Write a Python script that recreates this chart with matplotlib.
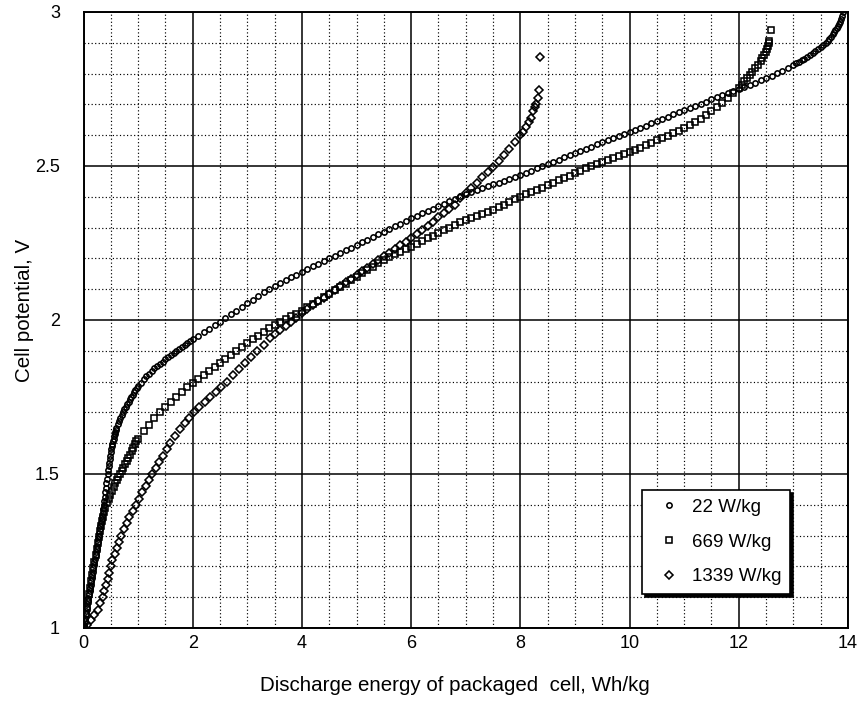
import matplotlib
matplotlib.use("Agg")
import matplotlib.pyplot as plt
from matplotlib.ticker import MultipleLocator

plt.rcParams['font.family'] = ['Liberation Sans', 'DejaVu Sans']

# ---------------- data ----------------
labels = ["22 W/kg", "669 W/kg", "1339 W/kg"]

x_22 = [0, 0.01, 0.02, 0.03, 0.04, 0.05, 0.06, 0.07, 0.08, 0.09, 0.1, 0.11, 0.12, 0.13, 0.14,
        0.15, 0.16, 0.17, 0.18, 0.19, 0.2, 0.21, 0.22, 0.23, 0.24, 0.25, 0.26, 0.27, 0.28, 0.29,
        0.3, 0.31, 0.32, 0.33, 0.34, 0.35, 0.36, 0.37, 0.38, 0.39, 0.4, 0.41, 0.42, 0.43, 0.44,
        0.45, 0.46, 0.47, 0.48, 0.49, 0.5, 0.51, 0.52, 0.53, 0.54, 0.55, 0.56, 0.57, 0.58, 0.59,
        0.6, 0.625, 0.65, 0.675, 0.7, 0.725, 0.75, 0.775, 0.8, 0.825, 0.85, 0.875, 0.9, 0.925,
        0.95, 0.975, 1.0, 1.05, 1.1, 1.15, 1.2, 1.25, 1.3, 1.35, 1.4, 1.45, 1.5, 1.55, 1.6, 1.65,
        1.7, 1.75, 1.8, 1.85, 1.9, 1.95, 2.0, 2.1, 2.2, 2.3, 2.4, 2.5, 2.6, 2.7, 2.8, 2.9, 3.0,
        3.1, 3.2, 3.3, 3.4, 3.5, 3.6, 3.7, 3.8, 3.9, 4.0, 4.1, 4.2, 4.3, 4.4, 4.5, 4.6, 4.7, 4.8,
        4.9, 5.0, 5.1, 5.2, 5.3, 5.4, 5.5, 5.6, 5.7, 5.8, 5.9, 6.0, 6.1, 6.2, 6.3, 6.4, 6.5, 6.6,
        6.7, 6.8, 6.9, 7.0, 7.1, 7.2, 7.3, 7.4, 7.5, 7.6, 7.7, 7.8, 7.9, 8.0, 8.1, 8.2, 8.3, 8.4,
        8.5, 8.6, 8.7, 8.8, 8.9, 9.0, 9.1, 9.2, 9.3, 9.4, 9.5, 9.6, 9.7, 9.8, 9.9, 10.0, 10.1,
        10.2, 10.3, 10.4, 10.5, 10.6, 10.7, 10.8, 10.9, 11.0, 11.1, 11.2, 11.3, 11.4, 11.5, 11.6,
        11.7, 11.8, 11.9, 12.0, 12.1, 12.2, 12.3, 12.4, 12.5, 12.6, 12.7, 12.8, 12.9, 13.0, 13.05,
        13.1, 13.15, 13.2, 13.25, 13.3, 13.35, 13.4, 13.45, 13.5, 13.55, 13.6, 13.63, 13.66,
        13.69, 13.72, 13.75, 13.77, 13.79, 13.81, 13.83, 13.85, 13.87, 13.89, 13.91]
y_22 = [1.0, 1.011, 1.022, 1.033, 1.044, 1.055, 1.066, 1.077, 1.088, 1.099, 1.11, 1.12, 1.131,
        1.141, 1.152, 1.162, 1.173, 1.183, 1.194, 1.204, 1.215, 1.225, 1.236, 1.246, 1.257, 1.267,
        1.278, 1.288, 1.299, 1.309, 1.32, 1.331, 1.342, 1.353, 1.364, 1.375, 1.387, 1.399, 1.412,
        1.426, 1.44, 1.455, 1.47, 1.485, 1.5, 1.513, 1.525, 1.537, 1.548, 1.559, 1.57, 1.58, 1.59,
        1.599, 1.607, 1.615, 1.622, 1.629, 1.636, 1.642, 1.648, 1.661, 1.672, 1.683, 1.692, 1.701,
        1.71, 1.718, 1.726, 1.734, 1.742, 1.75, 1.757, 1.765, 1.772, 1.779, 1.786, 1.797, 1.807,
        1.817, 1.826, 1.835, 1.843, 1.851, 1.858, 1.865, 1.872, 1.879, 1.886, 1.892, 1.898, 1.905,
        1.911, 1.918, 1.924, 1.931, 1.937, 1.949, 1.961, 1.972, 1.983, 1.994, 2.006, 2.018, 2.03,
        2.042, 2.054, 2.066, 2.078, 2.09, 2.102, 2.111, 2.12, 2.129, 2.138, 2.147, 2.156, 2.165,
        2.174, 2.182, 2.191, 2.2, 2.208, 2.217, 2.226, 2.235, 2.243, 2.252, 2.261, 2.27, 2.278,
        2.287, 2.296, 2.304, 2.313, 2.322, 2.33, 2.338, 2.346, 2.354, 2.362, 2.37, 2.378, 2.386,
        2.394, 2.402, 2.41, 2.416, 2.422, 2.428, 2.434, 2.44, 2.446, 2.452, 2.458, 2.464, 2.47,
        2.477, 2.485, 2.492, 2.5, 2.507, 2.514, 2.521, 2.528, 2.535, 2.542, 2.549, 2.556, 2.563,
        2.57, 2.577, 2.584, 2.59, 2.597, 2.603, 2.61, 2.617, 2.624, 2.631, 2.639, 2.646, 2.653,
        2.66, 2.668, 2.675, 2.682, 2.689, 2.696, 2.702, 2.709, 2.716, 2.723, 2.729, 2.736, 2.743,
        2.75, 2.757, 2.764, 2.771, 2.778, 2.785, 2.793, 2.801, 2.809, 2.818, 2.828, 2.833, 2.838,
        2.843, 2.849, 2.854, 2.86, 2.866, 2.872, 2.879, 2.886, 2.893, 2.9, 2.906, 2.913, 2.92,
        2.927, 2.935, 2.941, 2.947, 2.954, 2.961, 2.968, 2.977, 2.987, 3.0]

x_669 = [0, 0.02, 0.04, 0.06, 0.08, 0.1, 0.12, 0.14, 0.16, 0.18, 0.2, 0.22, 0.24, 0.26, 0.28, 0.3,
         0.32, 0.34, 0.36, 0.38, 0.4, 0.43, 0.46, 0.49, 0.52, 0.55, 0.58, 0.61, 0.64, 0.67, 0.7,
         0.73, 0.76, 0.79, 0.82, 0.85, 0.88, 0.91, 0.94, 0.97, 1.0, 1.1, 1.2, 1.3, 1.4, 1.5, 1.6,
         1.7, 1.8, 1.9, 2.0, 2.1, 2.2, 2.3, 2.4, 2.5, 2.6, 2.7, 2.8, 2.9, 3.0, 3.1, 3.2, 3.3, 3.4,
         3.5, 3.6, 3.7, 3.8, 3.9, 4.0, 4.1, 4.2, 4.3, 4.4, 4.5, 4.6, 4.7, 4.8, 4.9, 5.0, 5.1, 5.2,
         5.3, 5.4, 5.5, 5.6, 5.7, 5.8, 5.9, 6.0, 6.1, 6.2, 6.3, 6.4, 6.5, 6.6, 6.7, 6.8, 6.9, 7.0,
         7.1, 7.2, 7.3, 7.4, 7.5, 7.6, 7.7, 7.8, 7.9, 8.0, 8.1, 8.2, 8.3, 8.4, 8.5, 8.6, 8.7, 8.8,
         8.9, 9.0, 9.1, 9.2, 9.3, 9.4, 9.5, 9.6, 9.7, 9.8, 9.9, 10.0, 10.1, 10.2, 10.3, 10.4, 10.5,
         10.6, 10.7, 10.8, 10.9, 11.0, 11.1, 11.2, 11.3, 11.4, 11.5, 11.6, 11.7, 11.8, 11.9, 12.0,
         12.05, 12.1, 12.15, 12.2, 12.25, 12.3, 12.35, 12.4, 12.43, 12.46, 12.49, 12.51, 12.53,
         12.55, 12.56, 12.59]
y_669 = [1.0, 1.022, 1.044, 1.066, 1.088, 1.11, 1.131, 1.152, 1.173, 1.194, 1.215, 1.236, 1.257,
         1.277, 1.296, 1.314, 1.331, 1.347, 1.362, 1.376, 1.389, 1.405, 1.419, 1.432, 1.445, 1.458,
         1.47, 1.481, 1.491, 1.501, 1.511, 1.521, 1.531, 1.541, 1.552, 1.563, 1.574, 1.585, 1.596,
         1.606, 1.615, 1.638, 1.66, 1.681, 1.7, 1.718, 1.735, 1.751, 1.766, 1.781, 1.795, 1.809,
         1.822, 1.835, 1.848, 1.861, 1.874, 1.887, 1.9, 1.913, 1.925, 1.937, 1.949, 1.961, 1.973,
         1.984, 1.994, 2.003, 2.012, 2.021, 2.03, 2.041, 2.052, 2.063, 2.074, 2.085, 2.096, 2.107,
         2.118, 2.129, 2.14, 2.151, 2.162, 2.173, 2.184, 2.194, 2.204, 2.213, 2.222, 2.23, 2.238,
         2.247, 2.256, 2.265, 2.274, 2.283, 2.291, 2.3, 2.308, 2.317, 2.325, 2.332, 2.339, 2.345,
         2.351, 2.358, 2.366, 2.375, 2.383, 2.392, 2.4, 2.408, 2.415, 2.423, 2.43, 2.438, 2.445,
         2.453, 2.46, 2.468, 2.476, 2.484, 2.492, 2.5, 2.507, 2.514, 2.52, 2.527, 2.533, 2.54,
         2.546, 2.553, 2.56, 2.567, 2.575, 2.583, 2.591, 2.599, 2.607, 2.615, 2.624, 2.633, 2.643,
         2.654, 2.665, 2.677, 2.69, 2.705, 2.72, 2.737, 2.754, 2.764, 2.775, 2.785, 2.796, 2.806,
         2.817, 2.828, 2.84, 2.85, 2.86, 2.87, 2.88, 2.89, 2.9, 2.906, 2.943]

x_1339 = [0, 0.06, 0.13, 0.2, 0.26, 0.31, 0.35, 0.38, 0.41, 0.44, 0.47, 0.5, 0.53, 0.57, 0.61,
          0.65, 0.69, 0.74, 0.79, 0.84, 0.9, 0.96, 1.02, 1.08, 1.14, 1.2, 1.26, 1.32, 1.38, 1.45,
          1.52, 1.59, 1.68, 1.76, 1.85, 1.93, 2.02, 2.12, 2.22, 2.32, 2.42, 2.52, 2.63, 2.74, 2.85,
          2.96, 3.07, 3.18, 3.3, 3.41, 3.5, 3.6, 3.7, 3.8, 3.9, 4.0, 4.1, 4.2, 4.3, 4.4, 4.5, 4.6,
          4.7, 4.8, 4.9, 5.0, 5.1, 5.2, 5.3, 5.4, 5.5, 5.6, 5.7, 5.8, 5.9, 6.0, 6.1, 6.2, 6.3, 6.4,
          6.5, 6.6, 6.7, 6.8, 6.9, 7.0, 7.1, 7.2, 7.3, 7.4, 7.5, 7.6, 7.7, 7.8, 7.9, 8.0, 8.05, 8.1,
          8.15, 8.19, 8.24, 8.27, 8.29, 8.32, 8.34, 8.36]
y_1339 = [1.0, 1.01, 1.025, 1.042, 1.06, 1.08, 1.1, 1.12, 1.14, 1.16, 1.18, 1.2, 1.22, 1.24, 1.26,
          1.28, 1.3, 1.32, 1.34, 1.36, 1.38, 1.4, 1.42, 1.44, 1.46, 1.48, 1.5, 1.52, 1.54, 1.56,
          1.58, 1.6, 1.625, 1.645, 1.665, 1.682, 1.7, 1.717, 1.734, 1.75, 1.767, 1.783, 1.8, 1.82,
          1.84, 1.86, 1.88, 1.9, 1.92, 1.94, 1.953, 1.967, 1.981, 1.995, 2.008, 2.022, 2.035, 2.048,
          2.061, 2.073, 2.086, 2.098, 2.11, 2.122, 2.134, 2.146, 2.158, 2.17, 2.182, 2.195, 2.207,
          2.218, 2.23, 2.242, 2.254, 2.266, 2.279, 2.292, 2.305, 2.319, 2.333, 2.347, 2.361, 2.375,
          2.395, 2.412, 2.428, 2.446, 2.464, 2.48, 2.497, 2.515, 2.535, 2.556, 2.577, 2.6, 2.612,
          2.626, 2.642, 2.657, 2.679, 2.69, 2.7, 2.72, 2.748, 2.853]

x_ticks = [0, 2, 4, 6, 8, 10, 12, 14]
x_tick_labels = ["0", "2", "4", "6", "8", "10", "12", "14"]
y_ticks = [1, 1.5, 2, 2.5, 3]
y_tick_labels = ["1", "1.5", "2", "2.5", "3"]

# ---------------- figure ----------------
fig = plt.figure(figsize=(8.62, 7.02), dpi=100)
ax = fig.add_axes([83.5 / 862, 74 / 702, 764.5 / 862, 616 / 702])

common = dict(linestyle='none', markerfacecolor='none', markeredgecolor='black',
              markeredgewidth=1.15, clip_on=True)
ax.plot(x_22, y_22, marker='o', markersize=3.8, label=labels[0], zorder=4, **common)
ax.plot(x_669, y_669, marker='s', markersize=4.3, label=labels[1], zorder=3, **common)
ax.plot(x_1339, y_1339, marker='D', markersize=3.8, label=labels[2], zorder=3, **common)

ax.set_xlim(0, 14)
ax.set_ylim(1, 3)
ax.set_xticks(x_ticks)
ax.set_xticklabels(x_tick_labels)
ax.set_yticks(y_ticks)
ax.set_yticklabels(y_tick_labels)
ax.xaxis.set_minor_locator(MultipleLocator(0.5))
ax.yaxis.set_minor_locator(MultipleLocator(0.1))

ax.set_axisbelow(True)
ax.grid(which='minor', color='black', linewidth=0.85, linestyle=(0, (1, 2.0)))
ax.grid(which='major', color='black', linewidth=1.1, linestyle='-')

ax.tick_params(which='both', length=0)
ax.tick_params(axis='x', which='major', pad=5, labelsize=13)
ax.tick_params(axis='y', which='major', pad=17, labelsize=13)

for s in ax.spines.values():
    s.set_linewidth(1.4)
    s.set_color('black')

ax.set_xlabel("Discharge energy of packaged  cell, Wh/kg", fontsize=14.8, labelpad=17)
ax.set_ylabel("Cell potential, V", fontsize=14.8, labelpad=1)
ax.xaxis.label.set_x(0.486)
ax.yaxis.label.set_y(0.515)

leg = ax.legend(loc='upper left', bbox_to_anchor=(0.731, 0.224), borderaxespad=0,
                fontsize=13.5, frameon=True, fancybox=False, edgecolor='black',
                framealpha=1, handlelength=1.9, handletextpad=0.3, borderpad=0.45,
                labelspacing=0.95, shadow={'color': 'black', 'alpha': 1})
leg.get_frame().set_linewidth(1.2)

fig.savefig("out.png", dpi=100)
